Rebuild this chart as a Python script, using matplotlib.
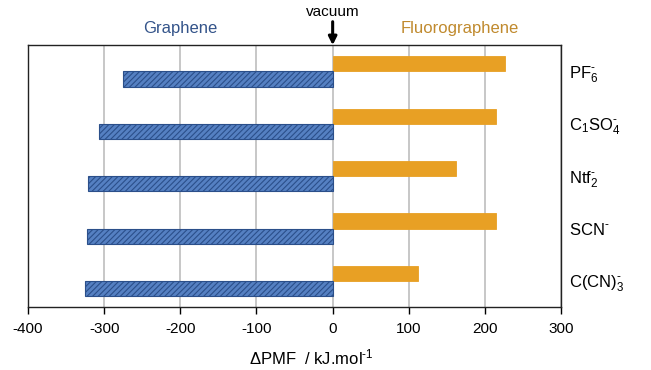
import matplotlib
matplotlib.use("Agg")
import matplotlib.pyplot as plt
import numpy as np

plt.rcParams['font.family'] = ['Liberation Sans', 'DejaVu Sans']
plt.rcParams['mathtext.fontset'] = 'custom'
plt.rcParams['mathtext.rm'] = 'Liberation Sans'
plt.rcParams['mathtext.it'] = 'Liberation Sans'
plt.rcParams['mathtext.bf'] = 'Liberation Sans:bold'
plt.rcParams['hatch.linewidth'] = 0.8

# Anions, listed top to bottom
anions = [r'PF$_6^{\text{-}}$', r'C$_1$SO$_4^{\text{-}}$', r'Ntf$_2^{\text{-}}$',
          r'SCN$^{\text{-}}$', r'C(CN)$_3^{\text{-}}$']
graphene = [-275, -307, -321, -322, -325]
fluorographene = [226, 215, 162, 215, 112]
xticks = [-400, -300, -200, -100, 0, 100, 200, 300]

blue_face = '#5580C2'
blue_edge = '#2B4F8A'
orange = '#E8A024'

fig = plt.figure(figsize=(6.51, 3.70), dpi=100)
ax = fig.add_axes([0.043, 0.170, 0.819, 0.708])

y = np.arange(len(anions))
h = 0.29
ax.barh(y - h / 2, fluorographene, height=h, color=orange, edgecolor=orange, lw=0.6, zorder=3)
ax.barh(y + h / 2, graphene, height=h, color=blue_face, edgecolor=blue_edge,
        hatch='//////', lw=0.8, zorder=3)

ax.set_ylim(len(anions) - 0.5, -0.5)
ax.set_xlim(-400, 300)
ax.set_xticks(xticks)
ax.set_xticklabels([str(v) for v in xticks], fontsize=11)
ax.tick_params(axis='x', direction='out', length=5, width=1, pad=6)
ax.xaxis.grid(True, color='#BDBDBD', lw=1.2, zorder=0)
ax.set_axisbelow(True)

ax.yaxis.tick_right()
ax.set_yticks(y)
ax.set_yticklabels(anions, fontsize=12)
ax.tick_params(axis='y', length=0, pad=6)
for lbl in ax.get_yticklabels():
    lbl.set_horizontalalignment('left')

for s in ax.spines.values():
    s.set_linewidth(1.0)
    s.set_color('#222222')

# Axis title placed in figure coordinates, slightly right of centre
fig.text(0.478, 0.035, r'$\Delta$PMF  / kJ.mol$^{\text{-}1}$', fontsize=12,
         ha='center', va='center')

ax.text(-200, 1.035, 'Graphene', transform=ax.get_xaxis_transform(),
        ha='center', va='bottom', fontsize=12, color='#34548A')
ax.text(167, 1.035, 'Fluorographene', transform=ax.get_xaxis_transform(),
        ha='center', va='bottom', fontsize=12, color='#C08A2E')
ax.annotate('vacuum', xy=(0, 1.0), xytext=(0, 1.1),
            xycoords=ax.get_xaxis_transform(), textcoords=ax.get_xaxis_transform(),
            ha='center', va='bottom', fontsize=11,
            arrowprops=dict(arrowstyle='-|>', color='black', lw=2.2,
                            mutation_scale=12, shrinkA=0, shrinkB=0))

fig.savefig('out.png', dpi=100)
